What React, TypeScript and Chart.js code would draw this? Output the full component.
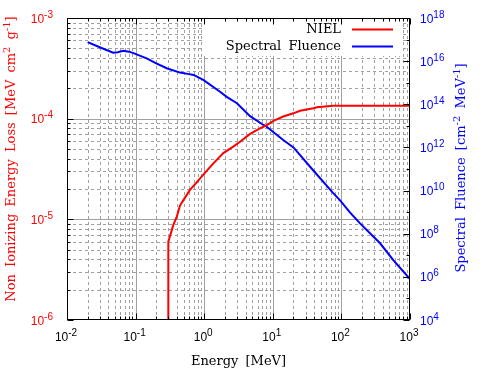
import React, { useEffect, useRef } from "react";
import { Chart, registerables } from "chart.js";

Chart.register(...registerables);

// ---- data ----
const nielEnergy = [0.3, 0.3, 0.355, 0.4, 0.444, 0.5, 0.62, 0.778, 1.0, 1.36, 1.9, 2.65, 3.33, 4.66, 6.5, 8.1, 10.2, 14.2, 19.9, 25, 39, 44, 76, 133, 1000];
const nielValue = [1e-6, 6.0e-6, 8.8e-6, 1.07e-5, 1.37e-5, 1.56e-5, 1.96e-5, 2.33e-5, 2.85e-5, 3.6e-5, 4.55e-5, 5.27e-5, 5.9e-5, 7.05e-5, 8.0e-5, 8.6e-5, 9.5e-5, 1.05e-4, 1.13e-4, 1.2e-4, 1.27e-4, 1.3e-4, 1.34e-4, 1.34e-4, 1.34e-4];

const fluenceEnergy = [0.02, 0.03, 0.047, 0.055, 0.066, 0.08, 0.093, 0.145, 0.2, 0.284, 0.444, 0.6, 0.7, 0.97, 1.7, 2.13, 3.0, 4.66, 7.3, 8.15, 14.2, 20, 39, 76, 95, 133, 187, 366, 571, 1000];
const fluenceValue = [7.6e16, 4.4e16, 2.45e16, 2.6e16, 3.0e16, 2.75e16, 2.35e16, 1.35e16, 7.9e15, 4.7e15, 2.95e15, 2.5e15, 2.3e15, 1.35e15, 3.8e14, 2.2e14, 1.12e14, 2.8e13, 1.1e13, 9.1e12, 2.2e12, 1.0e12, 8.5e10, 7.6e9, 3.6e9, 9.8e8, 3.0e8, 3.6e7, 6.0e6, 7.9e5];

const xTickExps = [-2, -1, 0, 1, 2, 3];
const yTickExps = [-6, -5, -4, -3];
const y2TickExps = [4, 6, 8, 10, 12, 14, 16, 18];

const seriesLabels = ["NIEL", "Spectral Fluence"];
const xTitle = "Energy [MeV]";

const RED = "#ff0000";
const BLUE = "#0000ff";
const GRID = "#a0a0a0";
const SERIF = "13px 'DejaVu Serif'";
const SERIF_SUP = "10px 'DejaVu Serif'";
const BASE_FONT = "12px 'Liberation Sans'";
const EXP_FONT = "10px 'Liberation Sans'";

function setWordSpacing(ctx: any, v: string) {
  try { ctx.wordSpacing = v; } catch (e) { /* ignore */ }
}

function drawPow(ctx: CanvasRenderingContext2D, exp: string, x: number, y: number, align: string, color: string) {
  ctx.font = BASE_FONT;
  const wb = ctx.measureText("10").width;
  ctx.font = EXP_FONT;
  const we = ctx.measureText(exp).width;
  const total = wb + we;
  const x0 = align === "left" ? x : align === "right" ? x - total : x - total / 2;
  ctx.fillStyle = color;
  ctx.textAlign = "left";
  ctx.textBaseline = "alphabetic";
  ctx.font = BASE_FONT;
  ctx.fillText("10", x0, y);
  ctx.font = EXP_FONT;
  ctx.fillText(exp, x0 + wb, y - 5);
}

function drawRich(ctx: CanvasRenderingContext2D, parts: [string, boolean][], cx: number, cy: number, color: string) {
  ctx.save();
  ctx.translate(cx, cy);
  ctx.rotate(-Math.PI / 2);
  ctx.fillStyle = color;
  ctx.textAlign = "left";
  ctx.textBaseline = "middle";
  setWordSpacing(ctx, "3px");
  let total = 0;
  const widths = parts.map(([t, sup]) => {
    ctx.font = sup ? SERIF_SUP : SERIF;
    const w = ctx.measureText(t).width;
    total += w;
    return w;
  });
  let x = -total / 2;
  parts.forEach(([t, sup], i) => {
    ctx.font = sup ? SERIF_SUP : SERIF;
    ctx.fillText(t, x, sup ? -5 : 0);
    x += widths[i];
  });
  ctx.restore();
}

const decor = {
  id: "decor",
  beforeDatasetsDraw(chart: any) {
    const { ctx, chartArea: a, scales } = chart;
    const x = scales.x;
    const y = scales.y;
    ctx.save();
    ctx.lineWidth = 1;
    ctx.strokeStyle = GRID;
    for (let e = xTickExps[0]; e < xTickExps[xTickExps.length - 1]; e++) {
      for (let k = 1; k < 10; k++) {
        if (k === 1 && e === xTickExps[0]) continue;
        const px = Math.round(x.getPixelForValue(k * Math.pow(10, e))) + 0.5;
        ctx.setLineDash(k === 1 ? [] : [3, 3]);
        ctx.beginPath();
        ctx.moveTo(px, a.top);
        ctx.lineTo(px, a.bottom);
        ctx.stroke();
      }
    }
    for (let e = yTickExps[0]; e < yTickExps[yTickExps.length - 1]; e++) {
      for (let k = 1; k < 10; k++) {
        if (k === 1 && e === yTickExps[0]) continue;
        const py = Math.round(y.getPixelForValue(k * Math.pow(10, e))) + 0.5;
        ctx.setLineDash(k === 1 ? [] : [3, 3]);
        ctx.beginPath();
        ctx.moveTo(a.left, py);
        ctx.lineTo(a.right, py);
        ctx.stroke();
      }
    }
    ctx.setLineDash([]);
    // legend background
    ctx.fillStyle = "#ffffff";
    ctx.fillRect(a.right - 208, a.top + 1, 199, 37);
    ctx.restore();
  },
  afterDatasetsDraw(chart: any) {
    const { ctx, chartArea: a, scales } = chart;
    const x = scales.x;
    const y = scales.y;
    const y2 = scales.y1;
    ctx.save();
    ctx.strokeStyle = "#000";
    ctx.lineWidth = 1;
    ctx.setLineDash([]);
    const L = Math.round(a.left) + 0.5;
    const R = Math.round(a.right) - 0.5;
    const T = Math.round(a.top) + 0.5;
    const B = Math.round(a.bottom) - 0.5;
    ctx.strokeRect(L, T, R - L, B - T);
    ctx.beginPath();
    for (let e = xTickExps[0]; e <= xTickExps[xTickExps.length - 1]; e++) {
      for (let k = 1; k < 10; k++) {
        if (e === xTickExps[xTickExps.length - 1] && k > 1) break;
        const px = Math.round(x.getPixelForValue(k * Math.pow(10, e))) + 0.5;
        const len = k === 1 ? 6 : 3;
        ctx.moveTo(px, B); ctx.lineTo(px, B - len);
        ctx.moveTo(px, T); ctx.lineTo(px, T + len);
      }
    }
    for (let e = yTickExps[0]; e <= yTickExps[yTickExps.length - 1]; e++) {
      for (let k = 1; k < 10; k++) {
        if (e === yTickExps[yTickExps.length - 1] && k > 1) break;
        const py = Math.round(y.getPixelForValue(k * Math.pow(10, e))) + 0.5;
        const len = k === 1 ? 6 : 3;
        ctx.moveTo(L, py); ctx.lineTo(L + len, py);
      }
    }
    for (let e = y2TickExps[0]; e <= y2TickExps[y2TickExps.length - 1]; e++) {
      const py = Math.round(y2.getPixelForValue(Math.pow(10, e))) + 0.5;
      const len = y2TickExps.includes(e) ? 6 : 3;
      ctx.moveTo(R, py); ctx.lineTo(R - len, py);
    }
    ctx.stroke();

    // tick labels
    xTickExps.forEach((e) => drawPow(ctx, String(e), x.getPixelForValue(Math.pow(10, e)) - 1, 341, "center", "#000"));
    yTickExps.forEach((e) => drawPow(ctx, String(e), 53, y.getPixelForValue(Math.pow(10, e)) + 4.5, "right", RED));
    y2TickExps.forEach((e) => drawPow(ctx, String(e), 420, y2.getPixelForValue(Math.pow(10, e)) + 4.5, "left", BLUE));

    // axis titles
    ctx.save();
    setWordSpacing(ctx, "3px");
    ctx.fillStyle = "#000";
    ctx.font = SERIF;
    ctx.textAlign = "center";
    ctx.textBaseline = "middle";
    ctx.fillText(xTitle, (a.left + a.right) / 2, 362);
    ctx.restore();
    drawRich(ctx, [["Non Ionizing Energy Loss [MeV cm", false], ["2", true], [" g", false], ["-1", true], ["]", false]], 12, 159, RED);
    drawRich(ctx, [["Spectral Fluence [cm", false], ["-2", true], [" MeV", false], ["-1", true], ["]", false]], 462, 168, BLUE);

    // legend
    const colors = [RED, BLUE];
    seriesLabels.forEach((lab, i) => {
      const ly = 29.5 + i * 17;
      ctx.save();
      setWordSpacing(ctx, "3px");
      ctx.fillStyle = "#000";
      ctx.font = SERIF;
      ctx.textAlign = "right";
      ctx.textBaseline = "middle";
      ctx.fillText(lab, a.right - 69, ly);
      ctx.restore();
      ctx.strokeStyle = colors[i];
      ctx.lineWidth = 2;
      ctx.beginPath();
      ctx.moveTo(a.right - 58, ly);
      ctx.lineTo(a.right - 17, ly);
      ctx.stroke();
    });
    ctx.restore();
  },
};

export default function App() {
  const ref = useRef<HTMLCanvasElement | null>(null);
  useEffect(() => {
    document.body.style.margin = "0";
    const canvas = ref.current;
    if (!canvas) return;
    const chart = new Chart(canvas, {
      type: "line",
      data: {
        datasets: [
          {
            label: seriesLabels[0],
            data: nielEnergy.map((e, i) => ({ x: e, y: nielValue[i] })),
            borderColor: RED,
            backgroundColor: RED,
            borderWidth: 2,
            pointRadius: 0,
            tension: 0,
            yAxisID: "y",
          },
          {
            label: seriesLabels[1],
            data: fluenceEnergy.map((e, i) => ({ x: e, y: fluenceValue[i] })),
            borderColor: BLUE,
            backgroundColor: BLUE,
            borderWidth: 2,
            pointRadius: 0,
            tension: 0,
            yAxisID: "y1",
          },
        ],
      },
      options: {
        animation: false,
        responsive: false,
        devicePixelRatio: 1,
        layout: { padding: { top: 18, left: 0, right: 0, bottom: 0 } },
        plugins: { legend: { display: false }, tooltip: { enabled: false } },
        scales: {
          x: {
            type: "logarithmic",
            position: "bottom",
            min: 0.01,
            max: 1000,
            grid: { display: false },
            border: { display: false },
            ticks: { display: false },
            afterFit: (s: any) => { s.height = 55; },
          },
          y: {
            type: "logarithmic",
            position: "left",
            min: 1e-6,
            max: 1e-3,
            grid: { display: false },
            border: { display: false },
            ticks: { display: false },
            afterFit: (s: any) => { s.width = 67; },
          },
          y1: {
            type: "logarithmic",
            position: "right",
            min: 1e4,
            max: 1e18,
            grid: { display: false },
            border: { display: false },
            ticks: { display: false },
            afterFit: (s: any) => { s.width = 90; },
          },
        },
      } as any,
      plugins: [decor],
    });
    return () => chart.destroy();
  }, []);
  return (
    <div style={{ width: 500, height: 375 }}>
      <canvas ref={ref} width={500} height={375} />
    </div>
  );
}
